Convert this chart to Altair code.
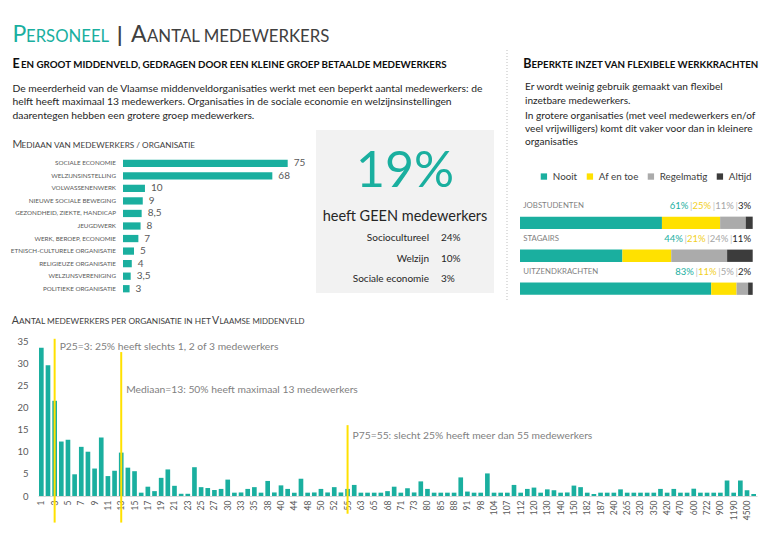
import altair as alt
import pandas as pd

# ---------------- data ----------------
median_sectors = ["Sociale economie", "Welzijnsinstelling", "Volwassenenwerk",
                  "Nieuwe sociale beweging", "Gezondheid, ziekte, handicap", "Jeugdwerk",
                  "Werk, beroep, economie", "Etnisch-culturele organisatie",
                  "Religieuze organisatie", "Welzijnsvereniging", "Politieke organisatie"]
median_values = [75, 68, 10, 9, 8.5, 8, 7, 5, 4, 3.5, 3]

geen_total = 19
geen_groups = ["Sociocultureel", "Welzijn", "Sociale economie"]
geen_values = [24, 10, 3]

flex_types = ["Jobstudenten", "Stagairs", "Uitzendkrachten"]
flex_levels = ["Nooit", "Af en toe", "Regelmatig", "Altijd"]
flex_nooit = [61, 44, 83]
flex_afentoe = [25, 21, 11]
flex_regelmatig = [11, 24, 5]
flex_altijd = [3, 11, 2]

hist_tick_labels = ["1", "3", "5", "7", "9", "11", "13", "15", "17", "19", "21", "23", "25", "27",
                    "30", "33", "35", "38", "40", "44", "48", "50", "52", "55", "63", "65", "68",
                    "71", "73", "80", "85", "88", "91", "98", "104", "107", "112", "120", "130",
                    "140", "150", "182", "187", "240", "265", "320", "350", "420", "470", "600",
                    "722", "900", "1190", "4500"]
hist_counts = [33.5, 29.5, 21.5, 12.3, 12.7, 4.9, 11.1, 10, 6.2, 13.2, 4.5, 5.7, 9.8, 6.4, 5.6,
               0.75, 2.1, 1.1, 4.1, 6, 2.3, 0.5, 0.5, 6.5, 2, 1.8, 1.35, 1.6, 3.7, 0.75, 0.8, 1.6,
               2.0, 0.75, 3.4, 0.8, 2.4, 1.6, 0.75, 3.9, 0.75, 0.8, 1.6, 0.8, 2.0, 0.8, 1.6, 2.5,
               0.75, 0.75, 0.75, 0.75, 1.1, 2.1, 0.75, 1.75, 0.8, 3.3, 1.6, 0.75, 0.75, 0.75,
               0.75, 4.2, 1.0, 0.75, 0.75, 5.1, 0.75, 0.75, 0.75, 2.5, 0.75, 1.6, 1.9, 0.75, 1.5,
               1.3, 0.75, 0.8, 2.35, 2.0, 0.75, 0.45, 0.75, 0.75, 0.75, 1.5, 0.75, 0.75, 0.75,
               0.75, 0.75, 1.6, 0.75, 1.6, 0.75, 0.75, 1.65, 0.75, 0.75, 0.75, 0.75, 3.5, 0.75,
               3.5, 1.3, 0.45]

percentile_cats = ["3", "13", "55"]
percentile_texts = ["P25=3: 25% heeft slechts 1, 2 of 3 medewerkers",
                    "Mediaan=13: 50% heeft maximaal 13 medewerkers",
                    "P75=55: slecht 25% heeft meer dan 55 medewerkers"]

# ---------------- styling / layout ----------------
FONT = "Lato"
TEAL = "#1AAF9F"
YEL = "#FFE100"
GREY = "#ABABAB"
DARK = "#3C3C3C"
OX, OY = 38, 8          # page position of plot origin
W, H = 719, 488
ONE = pd.DataFrame({"k": [0]})


def T(s, x, y, size, color="#262626", weight="normal", align="left", baseline="alphabetic"):
    return alt.Chart(ONE).mark_text(text=s, font=FONT, fontSize=size, color=color,
                                    fontWeight=weight, align=align, baseline=baseline).encode(
        x=alt.value(x - OX), y=alt.value(y - OY))


layers = []

# background box + separator
layers.append(alt.Chart(ONE).mark_rect(color="#F2F2F2").encode(
    x=alt.value(316 - OX), x2=alt.value(494 - OX), y=alt.value(130 - OY), y2=alt.value(293 - OY)))
layers.append(alt.Chart(ONE).mark_rule(color="#BFBFBF", strokeDash=[1, 2], strokeWidth=1).encode(
    x=alt.value(507 - OX), y=alt.value(50 - OY), y2=alt.value(300 - OY)))

# title
layers += [
    T("P", 12.5, 41.5, 23, TEAL),
    T("ERSONEEL", 26, 41.5, 16.7, TEAL),
    T("|", 117, 42, 21, "#404040", "bold"),
    T("A", 131, 41.5, 23, "#404040"),
    T("ANTAL MEDEWERKERS", 147, 41.5, 16.8, "#404040"),
]

# left heading + body
layers += [
    T("E", 12.5, 68.3, 12.5, "#0D0D0D", "bold"),
    T("EN GROOT MIDDENVELD, GEDRAGEN DOOR EEN KLEINE GROEP BETAALDE MEDEWERKERS", 21, 68.3, 9.75,
      "#0D0D0D", "bold"),
    T("De meerderheid van de Vlaamse middenveldorganisaties werkt met een beperkt aantal medewerkers: de",
      12.5, 91.7, 10.3),
    T("helft heeft maximaal 13 medewerkers. Organisaties in de sociale economie en welzijnsinstellingen",
      12.5, 105.3, 10.3),
    T("daarentegen hebben een grotere groep medewerkers.", 12.5, 119, 10.3),
]

# right heading + body
layers += [
    T("B", 523.3, 68.3, 12.5, "#0D0D0D", "bold"),
    T("EPERKTE INZET VAN FLEXIBELE WERKKRACHTEN", 531.5, 68.3, 9.7, "#0D0D0D", "bold"),
    T("Er wordt weinig gebruik gemaakt van flexibel", 525, 90.3, 10.1),
    T("inzetbare medewerkers.", 525, 103.7, 10.1),
    T("In grotere organisaties (met veel medewerkers en/of", 525, 118.7, 10.1),
    T("veel vrijwilligers) komt dit vaker voor dan in kleinere", 525, 132, 10.1),
    T("organisaties", 525, 144.7, 10.1),
]

# median section title
layers += [
    T("M", 12.5, 147.5, 10.5, "#404040"),
    T("EDIAAN VAN MEDEWERKERS / ORGANISATIE", 21.5, 147.5, 8.2, "#404040"),
]

# histogram title
layers += [
    T("A", 11.7, 323.5, 10.5, "#404040"),
    T("ANTAL MEDEWERKERS PER ORGANISATIE IN HET", 19, 323.5, 8.3, "#404040"),
    T("V", 212, 323.5, 10.5, "#404040"),
    T("LAAMSE MIDDENVELD", 219.5, 323.5, 7.9, "#404040"),
]

# box: 19%
layers += [
    T(f"{geen_total}%", 405, 187, 50, TEAL, align="center"),
    T("heeft GEEN medewerkers", 405, 220.5, 14.5, "#262626", align="center"),
]

# ---------------- median bar chart ----------------
med_df = pd.DataFrame({"sector": median_sectors, "v": median_values})
my = alt.Y("sector:N", scale=alt.Scale(domain=median_sectors, range=[157 - OY, 295 - OY],
                                       paddingInner=0.42, paddingOuter=0.21), axis=None, title=None)
mx = alt.X("v:Q", scale=alt.Scale(domain=[0, 75], range=[123 - OX, 287.7 - OX], nice=False, zero=True),
           axis=None, title=None)
med_bars = alt.Chart(med_df).mark_bar(color=TEAL).encode(x=mx, y=my)
med_vals = alt.Chart(med_df).transform_calculate(
    lbl="replace(toString(datum.v), '.', ',')").mark_text(
    align="left", baseline="middle", dx=6, font=FONT, fontSize=10, color="#595959").encode(
    x=mx, y=my, text="lbl:N")
med_labs = alt.Chart(med_df).transform_calculate(up="upper(datum.sector)").mark_text(
    align="right", baseline="middle", font=FONT, fontSize=6.3, color="#595959").encode(
    x=alt.value(116 - OX), y=my, text="up:N")
layers.append(alt.layer(med_bars, med_vals, med_labs))

# ---------------- geen medewerkers rows ----------------
geen_df = pd.DataFrame({"g": geen_groups, "p": geen_values})
gy = alt.Y("g:N", scale=alt.Scale(domain=geen_groups, range=[228.1 - OY, 289.2 - OY],
                                  paddingInner=0, paddingOuter=0), axis=None, title=None)
geen_lab = alt.Chart(geen_df).mark_text(align="right", baseline="middle", font=FONT, fontSize=10,
                                        color="#262626").encode(x=alt.value(429 - OX), y=gy, text="g:N")
geen_val = alt.Chart(geen_df).transform_calculate(pl="datum.p + '%'").mark_text(
    align="left", baseline="middle", font=FONT, fontSize=10, color="#262626").encode(
    x=alt.value(441 - OX), y=gy, text="pl:N")
layers.append(alt.layer(geen_lab, geen_val))

# ---------------- flexible workforce stacked bars ----------------
rows = []
for i, t in enumerate(flex_types):
    vals = [flex_nooit[i], flex_afentoe[i], flex_regelmatig[i], flex_altijd[i]]
    for j, (lev, v) in enumerate(zip(flex_levels, vals)):
        rows.append({"type": t, "level": lev, "pct": v, "o": j})
flex_df = pd.DataFrame(rows)


def fy():
    return alt.Y("type:N", scale=alt.Scale(domain=flex_types, range=[206.3 - OY, 305.2 - OY],
                                           paddingInner=0.627, paddingOuter=0.3135),
                 axis=None, title=None)


flex_bars = alt.Chart(flex_df).mark_bar().encode(
    x=alt.X("pct:Q", stack="normalize",
            scale=alt.Scale(domain=[0, 1], range=[520 - OX, 752.7 - OX], nice=False),
            axis=None, title=None),
    y=fy(),
    color=alt.Color("level:N", scale=alt.Scale(domain=flex_levels, range=[TEAL, YEL, GREY, DARK]),
                    legend=alt.Legend(title=None, orient="none", legendX=539 - OX, legendY=171.5 - OY,
                                      direction="horizontal", symbolType="square", symbolSize=40,
                                      symbolStrokeWidth=0, labelFont=FONT, labelFontSize=9.8,
                                      labelColor="#404040", columnPadding=7, labelOffset=4,
                                      padding=0)),
    order=alt.Order("o:Q"),
)
flex_lab_df = pd.DataFrame({"type": flex_types})
flex_labs = alt.Chart(flex_lab_df).transform_calculate(up="upper(datum.type)").mark_text(
    align="left", baseline="middle", dy=-17, font=FONT, fontSize=7.8, color="#7F7F7F").encode(
    x=alt.value(523.3 - OX), y=fy(), text="up:N")
layers.append(alt.layer(flex_bars, flex_labs))

# coloured percentage strings, laid out right to left
PCT_SIZE = 9.5
seg_colors = [TEAL, "#F2CF1D", "#A6A6A6", "#262626"]


def est_w(s, size):
    w = 0.0
    for ch in s:
        if ch.isdigit():
            w += 0.58
        elif ch == "%":
            w += 0.78
        elif ch == "|":
            w += 0.26
        else:
            w += 0.5
    return w * size


seg_rows = []
for i, t in enumerate(flex_types):
    vals = [flex_nooit[i], flex_afentoe[i], flex_regelmatig[i], flex_altijd[i]]
    segs = []
    for j, v in enumerate(vals):
        if j > 0:
            segs.append(("|", "#BFBFBF"))
        segs.append((f"{v}%", seg_colors[j]))
    xr = 751 - OX
    for s, c in reversed(segs):
        seg_rows.append({"type": t, "s": s, "c": c, "xr": xr})
        xr -= est_w(s, PCT_SIZE) + (1.2 if s == "|" else 0) + 0.3
seg_df = pd.DataFrame(seg_rows)
layers.append(alt.Chart(seg_df).mark_text(align="right", baseline="middle", dy=-17, font=FONT,
                                          fontSize=PCT_SIZE).encode(
    x=alt.X("xr:Q", scale=None), y=fy(), text="s:N", color=alt.Color("c:N", scale=None)))

# ---------------- histogram ----------------
hist_cats = []
for i, lab in enumerate(hist_tick_labels):
    hist_cats.append(lab)
    if i + 1 < len(hist_tick_labels):
        a, b = int(lab), int(hist_tick_labels[i + 1])
        hist_cats.append(str(a + 1) if b - a == 2 else f"{a}\u2013{b}")
    else:
        hist_cats.append(f">{lab}")
hist_df = pd.DataFrame({"cat": hist_cats, "n": hist_counts})

x_axis = alt.Axis(values=hist_tick_labels, title=None, labelAngle=270, labelFont=FONT,
                  labelFontSize=8.5, labelColor="#595959", ticks=False, tickSize=0, labelPadding=4,
                  domainColor="#D9D9D9", labelOverlap=False, grid=False)
hx = alt.X("cat:N", scale=alt.Scale(domain=hist_cats, paddingInner=0.3, paddingOuter=0.15),
           axis=x_axis, title=None)
hy_scale = alt.Scale(domain=[0, 35], range=[496 - OY, 341 - OY], nice=False, zero=True)
hy_axis = alt.Axis(values=[0, 5, 10, 15, 20, 25, 30, 35], title=None, domain=False, ticks=False,
                   tickSize=0, grid=False, labelFont=FONT, labelFontSize=9.5, labelColor="#595959",
                   labelPadding=10)

pct_df = pd.DataFrame({"cat": percentile_cats, "label": percentile_texts,
                       "top": [35.5, 32.5, 16], "bottom": [-6, -6, -4], "ty": [33.6, 23.9, 13.5]})

h_bars = alt.Chart(hist_df).mark_bar(color=TEAL).encode(
    x=hx, y=alt.Y("n:Q", scale=hy_scale, axis=hy_axis, title=None))
h_rules = alt.Chart(pct_df).mark_rule(color=YEL, strokeWidth=2).encode(
    x=hx, y=alt.Y("top:Q", scale=hy_scale, axis=hy_axis, title=None), y2="bottom:Q")
h_text = alt.Chart(pct_df).mark_text(align="left", baseline="middle", dx=5, font=FONT,
                                     fontSize=10.3, color="#7F7F7F").encode(
    x=hx, y=alt.Y("ty:Q", scale=hy_scale, axis=hy_axis, title=None), text="label:N")
layers.append(alt.layer(h_bars, h_rules, h_text))

chart = alt.layer(*layers).resolve_scale(
    x="independent", y="independent", color="independent"
).properties(
    width=W, height=H,
    padding={"left": 30, "top": 0, "right": 5, "bottom": 29},
    autosize=alt.AutoSizeParams(type="none"),
    background="white",
).configure_view(stroke=None)

chart.save("out.html", embed_options={"renderer": "svg", "actions": False})
